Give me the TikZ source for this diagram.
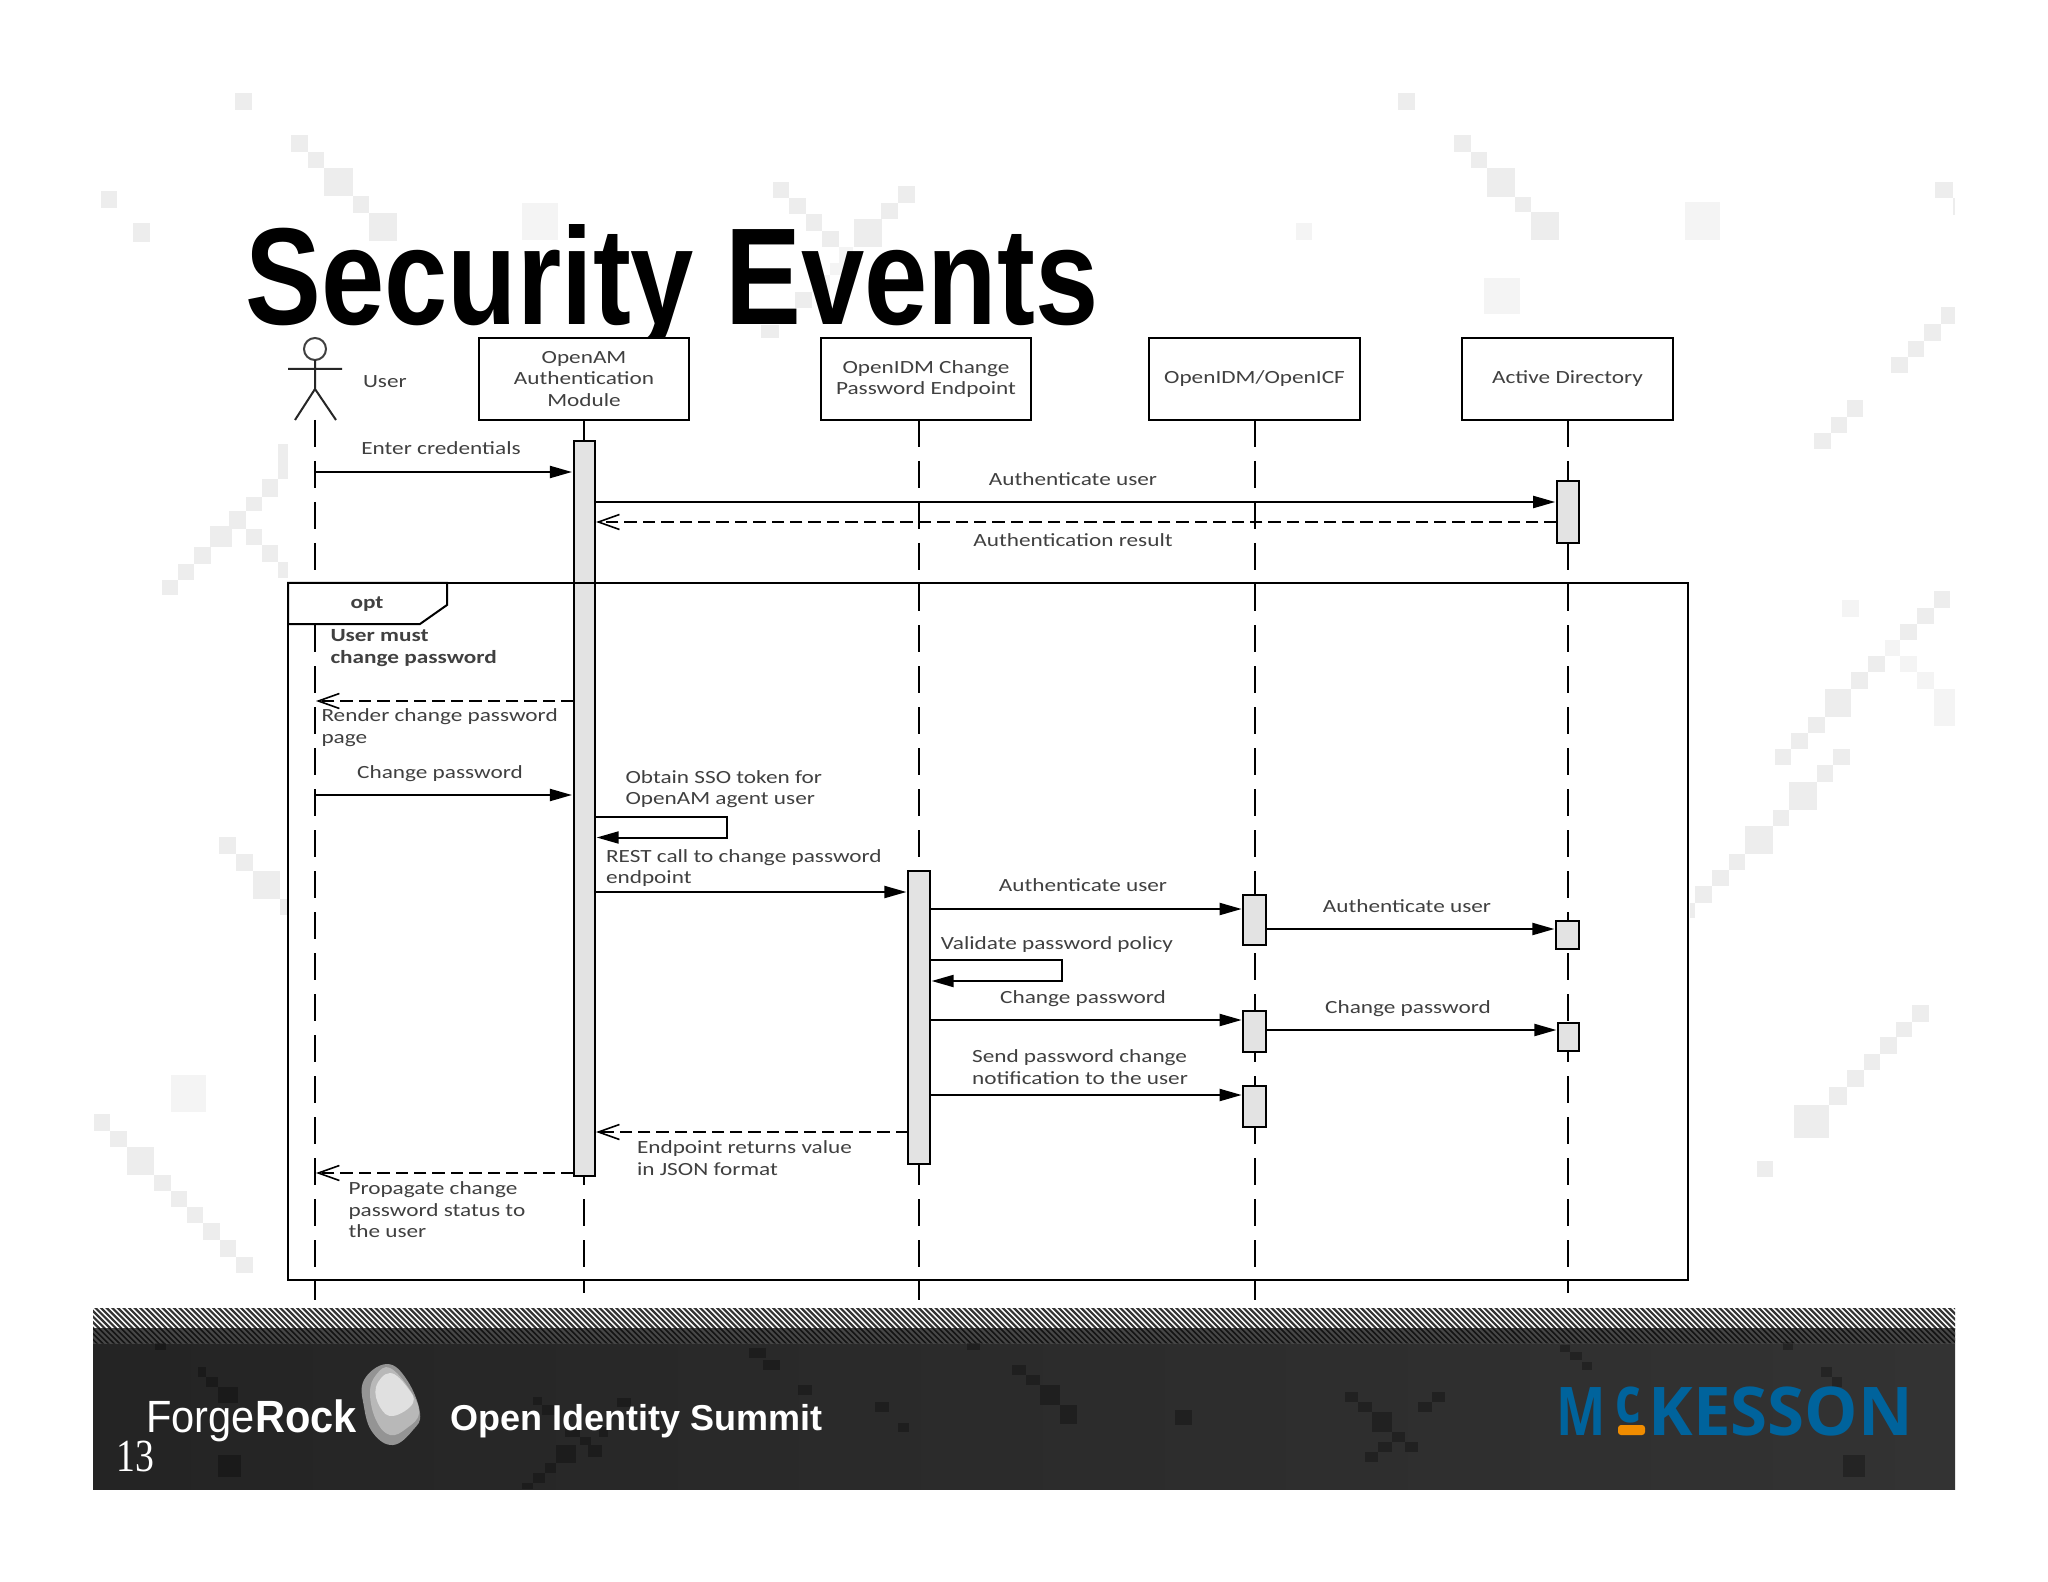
\documentclass[tikz,border=0pt]{standalone}
\usepackage{fontspec}
\usetikzlibrary{arrows.meta,shapes.geometric}
\newfontfamily\diagfont[FakeStretch=1.25]{Carlito}
\newfontfamily\titlefont[FakeStretch=0.824]{Liberation Sans}
\newfontfamily\logofont[FakeStretch=0.92]{Liberation Sans}
\newfontfamily\summitfont{Liberation Sans}
\newfontfamily\numfont[FakeStretch=0.82]{Liberation Serif}
\newfontfamily\mckfont{Open Sans}
\newfontfamily\mckMfont[FakeStretch=0.78]{Open Sans}
\definecolor{txt}{HTML}{404040}
\definecolor{barfill}{HTML}{E3E3E3}
\definecolor{sqa}{HTML}{EDEDED}
\definecolor{sqb}{HTML}{F4F4F4}
\definecolor{mckblue}{HTML}{00639C}
\definecolor{mckorange}{HTML}{F08C00}
\newcommand\headbox[6]{\node[headst,minimum width={(#3-#2)*0.5pt},minimum height={(#5-#4)*0.5pt}] (#1) at ({(#2+#3)/2},{(#4+#5)/2}) {#6};}
\newcommand\actbar[5]{\node[barst,minimum width={#5*0.5pt},minimum height={(#4-#3)*0.5pt}] (#1) at (#2,{(#3+#4)/2}) {};}
\tikzset{
  headst/.style={draw=black,line width=1pt,fill=white,inner sep=0pt,outer sep=0pt,align=center,font=\diagfont\fontsize{9.3}{10.75}\selectfont,text=txt},
  barst/.style={draw=black,line width=1pt,fill=barfill,inner sep=0pt,outer sep=0pt},
  lifeline/.style={draw=black,line width=1pt,dash pattern=on 13.5pt off 7pt},
  msgsolid/.style={draw=black,line width=1pt,-{Triangle[length=11pt,width=6pt]},shorten >=0.8pt},
  msgret/.style={draw=black,line width=1pt,dash pattern=on 6.2pt off 3pt,-{Straight Barb[length=10.5pt,width=7.5pt,line width=0.8pt]},shorten >=0.5pt},
  lbl/.style={inner sep=0pt,outer sep=0pt,text=txt,align=left,font=\diagfont\fontsize{9.3}{10.75}\selectfont},
  bgsqa/.style={fill=sqa},
  bgsqb/.style={fill=sqb},
  footsq/.style={fill=black,opacity=0.28},
}
\begin{document}
\begin{tikzpicture}[x=0.5pt,y=-0.5pt]
\useasboundingbox (0,0) rectangle (2048,1582);
\fill[white] (0,0) rectangle (2048,1582);
% background pixel decoration
\foreach \a/\b/\c/\d in {235/93/252/110,291/135/308/152,308/152/324/168,324/168/353/196,353/196/369/213,369/213/397/241,101/191/117/208,133/223/150/242,
773/182/789/198,789/198/806/214,806/214/822/231,822/231/839/231,898/186/915/203,881/203/898/219,854/219/882/247,795/292/812/308,761/325/779/338,
1398/93/1415/110,1454/135/1471/152,1471/152/1487/168,1487/168/1515/197,1515/197/1531/212,1531/212/1559/240,1935/182/1953/198,1953/198/1955/215,
1941/307/1955/324,1924/324/1941/341,1908/341/1924/357,1891/357/1908/373,1847/400/1863/417,1831/417/1847/433,1814/433/1831/449,
1934/591/1950/608,1917/608/1934/624,1900/624/1917/640,1868/656/1885/672,1851/672/1868/689,1825/689/1851/717,1808/717/1825/733,1791/733/1808/749,1775/749/1791/765,
1833/749/1850/765,1817/765/1833/782,1789/782/1817/810,1773/810/1789/826,1745/826/1773/854,1729/854/1745/870,1712/870/1729/886,1695/886/1712/903,1689/903/1695/918,
1912/1005/1929/1022,1896/1022/1912/1037,1880/1037/1897/1054,1864/1054/1880/1070,1847/1070/1864/1087,1829/1087/1847/1105,1794/1105/1829/1138,1757/1161/1773/1177,
278/444/288/479,262/479/278/497,246/497/262/511,229/511/246/529,210/526/232/547,194/547/211/564,178/564/194/580,162/580/178/595,246/529/262/545,262/545/278/562,278/562/288/578,
219/837/236/854,236/854/253/871,253/871/280/899,280/899/287/915,94/1114/110/1131,110/1131/127/1147,127/1147/154/1175,154/1175/171/1191,171/1191/187/1207,187/1207/203/1223,203/1223/220/1240,220/1240/236/1257,236/1257/253/1273,
822/231/839/247}
  {\fill[bgsqa] (\a,\b) rectangle (\c,\d);}
\foreach \a/\b/\c/\d in {522/203/558/240,839/247/853/263,812/275/830/292,830/263/846/275,1685/202/1720/240,1484/278/1520/314,1296/223/1312/240,
1885/640/1900/656,1842/600/1859/617,1900/656/1917/672,1917/672/1934/689,1934/689/1955/726,171/1075/206/1112}
  {\fill[bgsqb] (\a,\b) rectangle (\c,\d);}
% title
\node[anchor=base west,inner sep=0pt,font=\titlefont\bfseries\fontsize{69}{69}\selectfont,text=black] (title) at (245,325) {Security Events};
% opaque picture area of the diagram
\fill[white] (288,338) rectangle (1690,1302);
% footer band
\begin{scope}
\clip (93,1308) rectangle (1955,1328);
\fill[white] (93,1308) rectangle (1955,1328);
\foreach \x in {60,65.6,...,1960} {\draw[line width=1.1pt,color=black!80] (\x,1306) -- (\x+24,1330);}
\end{scope}
\fill[left color=black!86,right color=black!80] (93,1328) rectangle (1955,1489);
\begin{scope}
\clip (93,1328) rectangle (1955,1343);
\fill[black!92] (93,1328) rectangle (1955,1343);
\foreach \x in {60,65.6,...,1960} {\draw[line width=1pt,color=black!72] (\x,1326) -- (\x+19,1345);}
\end{scope}
\foreach \a/\b/\c/\d in {155/1343/166/1350,198/1367/206/1377,206/1377/218/1387,218/1387/238/1403,218/1455/241/1477,533/1397/542/1405,542/1405/556/1415,565/1427/580/1437,580/1437/591/1445,556/1445/576/1463,545/1463/556/1473,533/1473/545/1483,522/1483/533/1489,588/1445/602/1457,617/1398/631/1407,599/1427/608/1437,749/1348/766/1358,763/1360/780/1370,798/1385/812/1395,875/1402/889/1412,898/1423/909/1432,967/1343/980/1350,1560/1345/1570/1352,1570/1352/1582/1360,1582/1362/1592/1370,1783/1342/1793/1350,1821/1367/1832/1377,1832/1377/1842/1387,1843/1455/1865/1477,1345/1392/1358/1402,1358/1402/1372/1412,1372/1412/1392/1432,1392/1432/1405/1442,1405/1442/1418/1452,1432/1392/1445/1402,1418/1402/1432/1412,1378/1442/1392/1452,1365/1452/1378/1462,1012/1365/1026/1375,1026/1375/1040/1385,1040/1385/1060/1405,1060/1405/1077/1424,1175/1410/1192/1425}
  {\fill[footsq] (\a,\b) rectangle (\c,\d);}
% ForgeRock logo
\node[anchor=base west,inner sep=0pt,text=white,font=\logofont\fontsize{22.6}{24}\selectfont] (frtext) at (146,1432) {Forge\textbf{Rock}};
\fill[black!42] plot[smooth cycle,tension=0.7] coordinates {(387,1364) (407,1380) (420,1413) (413,1430) (393,1445) (373,1433) (364,1407) (364,1380)};
\fill[black!28] plot[smooth cycle,tension=0.7] coordinates {(390,1368) (410,1390) (419,1413) (407,1428) (390,1435) (376,1420) (370,1393) (376,1375)};
\fill[black!12] plot[smooth cycle,tension=0.7] coordinates {(390,1373) (407,1387) (413,1403) (393,1416) (380,1407) (376,1387)};
\node[anchor=base west,inner sep=0pt,text=white,font=\summitfont\bfseries\fontsize{18}{20}\selectfont] (summit) at (450,1430) {Open Identity Summit};
\node[anchor=base west,inner sep=0pt,text=white,font=\numfont\fontsize{23}{25}\selectfont] (pagenum) at (116,1471) {13};
% McKesson logo
\node[anchor=base west,inner sep=0pt,text=mckblue,font=\mckMfont\bfseries\fontsize{33.6}{36}\selectfont] (mckM) at (1556,1435) {M};
\node[anchor=base west,inner sep=0pt,text=mckblue,font=\mckMfont\bfseries\fontsize{32}{36}\selectfont] (mckc) at (1615,1422) {c};
\node[anchor=base west,inner sep=0pt,text=mckblue,font=\mckfont\bfseries\fontsize{33.6}{36}\selectfont] (mckK) at (1648,1435) {KESSON};
\fill[mckorange,rounded corners=1.5pt] (1618,1425) rectangle (1645,1435);
% actor
\node[circle,draw=black!75,line width=1pt,minimum size=11pt,inner sep=0pt,outer sep=0pt] (userhead) at (315,349) {};
\coordinate (hip) at (315,389);
\coordinate (armL) at (288,369);
\coordinate (armR) at (342,369);
\coordinate (legL) at (295,420);
\coordinate (legR) at (336,420);
\draw[black!85,line width=1pt] (userhead.south) -- (hip) (armL) -- (armR) (legL) -- (hip) -- (legR);
\node[lbl,anchor=mid west] (usertxt) at (363,383) {User};
% heads
\headbox{openam}{479}{689}{338}{420}{OpenAM\\Authentication\\Module}
\headbox{idm}{821}{1031}{338}{420}{OpenIDM Change\\Password Endpoint}
\headbox{icf}{1149}{1360}{338}{420}{OpenIDM/OpenICF}
\headbox{ad}{1462}{1673}{338}{420}{Active Directory}
% lifelines
\coordinate (uTop) at (315,420);
\coordinate (uEnd) at (315,1300);
\coordinate (oEnd) at (584,1293);
\coordinate (iEnd) at (919,1300);
\coordinate (cEnd) at (1254.5,1300);
\coordinate (aEnd) at (1567.5,1293);
\draw[lifeline] (uTop) -- (uEnd);
\draw[lifeline] (openam.south -| oEnd) -- (oEnd);
\draw[lifeline] (idm.south -| iEnd) -- (iEnd);
\draw[lifeline] (icf.south -| cEnd) -- (cEnd);
\draw[lifeline] (ad.south -| aEnd) -- (aEnd);
% activation bars
\actbar{amb}{584.3}{441}{1176}{21.5}
\actbar{adA}{1567.8}{481}{543}{22}
\actbar{idmb}{919}{871}{1164}{22}
\actbar{icfA}{1254.5}{895}{945}{22.5}
\actbar{adB}{1567.5}{921}{949}{23}
\actbar{icfB}{1254.5}{1011}{1052}{22.5}
\actbar{adC}{1568.5}{1023}{1051}{21}
\actbar{icfC}{1254.5}{1086}{1127}{22.5}
% frame
\node[draw=black,line width=1pt,inner sep=0pt,outer sep=0pt,minimum width=700pt,minimum height=348.5pt] (frame) at (988,931.5) {};
\filldraw[draw=black,fill=white,line width=1pt] (frame.north west) -- (447,583) -- (447,605) -- (420,624) -- (288,624) -- cycle;
\node[lbl,anchor=mid,font=\diagfont\bfseries\fontsize{9.3}{10.75}\selectfont] (opttxt) at (367,604) {opt};
\node[lbl,anchor=west,font=\diagfont\bfseries\fontsize{9.3}{10.75}\selectfont] (guard) at (330.5,648) {User must\\change password};
% messages
\draw[msgsolid] (uTop |- 0,472) -- (amb.west |- 0,472);
\node[lbl,anchor=mid] (m1) at (441,450) {Enter credentials};
\draw[msgsolid] (amb.east |- 0,502) -- (adA.west |- 0,502);
\node[lbl,anchor=mid] (m2) at (1073,481) {Authenticate user};
\draw[msgret] (adA.west |- 0,522) -- (amb.east |- 0,522);
\node[lbl,anchor=mid] (m3) at (1073,542) {Authentication result};
\draw[msgret] (amb.west |- 0,701) -- (uTop |- 0,701);
\node[lbl,anchor=west] (m4) at (321.5,727.5) {Render change password\\page};
\draw[msgsolid] (uTop |- 0,795) -- (amb.west |- 0,795);
\node[lbl,anchor=mid] (m5) at (440,774) {Change password};
\node[lbl,anchor=west] (m6) at (625.5,789) {Obtain SSO token for\\OpenAM agent user};
\coordinate (loopA1) at (727,817);
\coordinate (loopA2) at (727,837.5);
\draw[msgsolid] (amb.east |- loopA1) -- (loopA1) -- (loopA2) -- (amb.east |- loopA2);
\node[lbl,anchor=west] (m7) at (606,868) {REST call to change password\\endpoint};
\draw[msgsolid] (amb.east |- 0,892) -- (idmb.west |- 0,892);
\draw[msgsolid] (idmb.east |- 0,909) -- (icfA.west |- 0,909);
\node[lbl,anchor=mid] (m8) at (1083,887) {Authenticate user};
\draw[msgsolid] (icfA.east |- 0,929) -- (adB.west |- 0,929);
\node[lbl,anchor=mid] (m9) at (1407,908) {Authenticate user};
\node[lbl,anchor=mid] (m10) at (1057,945) {Validate password policy};
\coordinate (loopB1) at (1062,960);
\coordinate (loopB2) at (1062,981);
\draw[msgsolid] (idmb.east |- loopB1) -- (loopB1) -- (loopB2) -- (idmb.east |- loopB2);
\draw[msgsolid] (idmb.east |- 0,1020) -- (icfB.west |- 0,1020);
\node[lbl,anchor=mid] (m11) at (1083,999) {Change password};
\draw[msgsolid] (icfB.east |- 0,1030) -- (adC.west |- 0,1030);
\node[lbl,anchor=mid] (m12) at (1408,1009) {Change password};
\node[lbl,anchor=center] (m13) at (1080,1067) {Send password change\\notification to the user};
\draw[msgsolid] (idmb.east |- 0,1095) -- (icfC.west |- 0,1095);
\draw[msgret] (idmb.west |- 0,1132) -- (amb.east |- 0,1132);
\node[lbl,anchor=west] (m14) at (637,1158) {Endpoint returns value\\in JSON format};
\draw[msgret] (amb.west |- 0,1173) -- (uTop |- 0,1173);
\node[lbl,anchor=west] (m15) at (348.5,1210) {Propagate change\\password status to\\the user};
\end{tikzpicture}
\end{document}
